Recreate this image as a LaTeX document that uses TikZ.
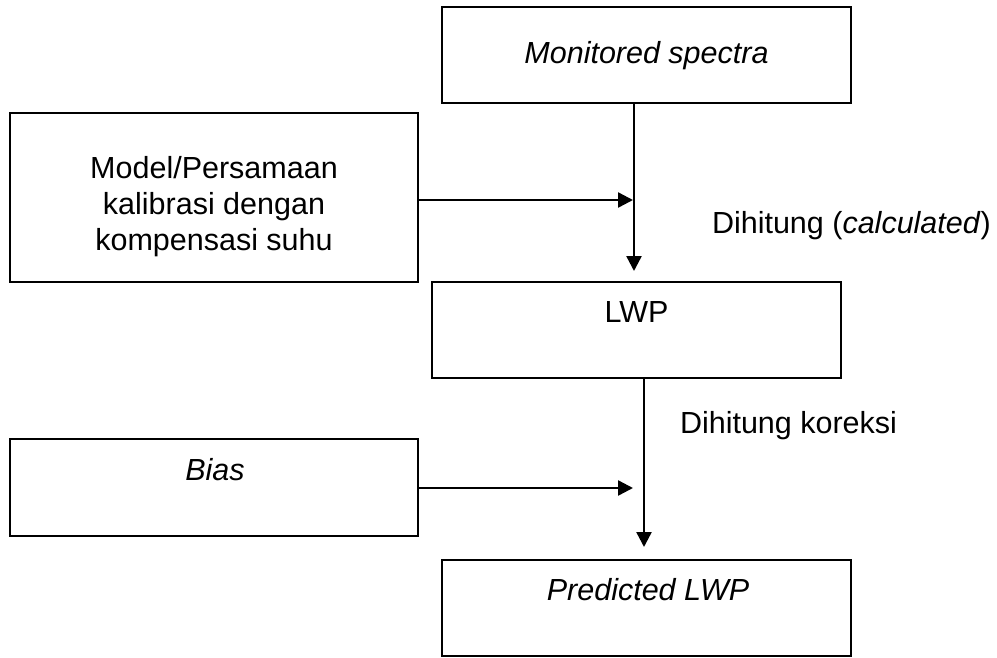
\documentclass[tikz,border=0pt]{standalone}
\usepackage{fontspec}
\setmainfont{Liberation Sans}
\usetikzlibrary{arrows.meta}
\begin{document}
\begin{tikzpicture}[x=1pt,y=-1pt,
  every node/.style={inner sep=0pt,outer sep=0pt},
  stepbox/.style={draw,line width=2.4pt,rectangle},
  txt/.style={font=\fontsize{30.5}{36}\selectfont,anchor=base},
  flow/.style={line width=2.4pt,-{Triangle[length=15pt,width=15pt]}},
  plain/.style={line width=2.4pt}]
\useasboundingbox (0,0) rectangle (997,657);

% boxes, given by their corners
\node[stepbox,minimum width=409pt,minimum height=96pt] (ms)   at (646.5,55) {};
\node[stepbox,minimum width=408pt,minimum height=169pt] (model) at (214,197.5) {};
\node[stepbox,minimum width=409pt,minimum height=96pt] (lwp)  at (636.5,330) {};
\node[stepbox,minimum width=408pt,minimum height=97pt] (bias) at (214,487.5) {};
\node[stepbox,minimum width=409pt,minimum height=96pt] (pred) at (646.5,608) {};

% box texts
\node[txt] (tms) at (646.5,63) {\itshape Monitored spectra};
\node[txt] (tm1) at (214,178) {Model/Persamaan};
\node[txt] (tm2) at (214,214) {kalibrasi dengan};
\node[txt] (tm3) at (214,250) {kompensasi suhu};
\node[txt] (tlwp) at (636.5,322) {LWP};
\node[txt] (tbias) at (215,480) {\itshape Bias};
\node[txt] (tpred) at (648,600) {\itshape Predicted LWP};

% connector labels
\node[txt,anchor=base west] (lcalc) at (712,233) {Dihitung (\textit{calculated})};
\node[txt,anchor=base west] (lkor) at (680,433) {Dihitung koreksi};

% connectors
\coordinate (up1) at (634,271);
\coordinate (join1) at (633,200);
\coordinate (up2) at (644,547);
\coordinate (join2) at (633,488);

\draw[flow] (ms.south -| up1) -- (up1);
\draw[flow] (model.east |- join1) -- (join1);
\draw[flow] (lwp.south -| up2) -- (up2);
\draw[flow] (bias.east |- join2) -- (join2);
\end{tikzpicture}
\end{document}
